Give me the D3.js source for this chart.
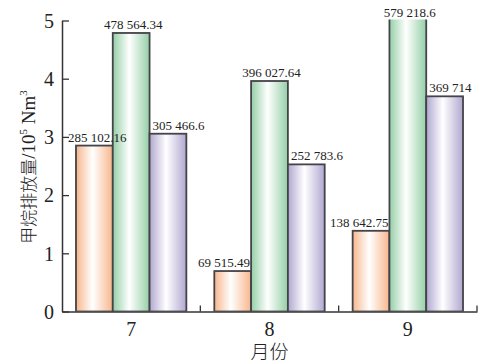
<!DOCTYPE html>
<html>
<head>
<meta charset="utf-8">
<script src="https://cdn.jsdelivr.net/npm/d3@7"></script>
<style>
  html, body { margin: 0; padding: 0; background: #fff; }
  svg { display: block; }
  text { font-family: "Liberation Serif", "Times New Roman", "Noto Sans CJK SC", serif; fill: #222; }
</style>
</head>
<body>
<svg id="chart" width="479" height="364"></svg>
<script>
// Monthly methane emissions (Nm³) for three sources
const months = ["7", "8", "9"];
const seriesKeys = ["a", "b", "c"];
const seriesA = [285102.16, 69515.49, 138642.75];
const seriesB = [478564.34, 396027.64, 579218.6];
const seriesC = [305466.6, 252783.6, 369714];
const yTicks = [0, 1, 2, 3, 4, 5];
const labelText = ["285 102.16", "69 515.49", "138 642.75",
                   "478 564.34", "396 027.64", "579 218.6",
                   "305 466.6", "252 783.6", "369 714"];

const colors = { a: "#f7b68c", b: "#94cfa6", c: "#b1a7d0" };
const anchors = { a: "end", b: "middle", c: "start" };

const svg = d3.select("#chart");
const plotLeft = 62, plotRight = 477, plotTop = 20.5, plotBottom = 311.5;

const x0 = d3.scaleBand().domain(months).range([plotLeft, plotRight]).padding(0);
const x1 = d3.scaleBand().domain(seriesKeys).range([0, x0.bandwidth()])
  .paddingInner(0).paddingOuter(0.38);
const y = d3.scaleLinear().domain([0, 5]).range([plotBottom, plotTop]);

const seriesVals = { a: seriesA, b: seriesB, c: seriesC };
const rows = [];
seriesKeys.forEach((k, si) => {
  months.forEach((m, mi) => {
    rows.push({ key: k, month: m, value: seriesVals[k][mi] / 1e5, label: labelText[si * 3 + mi] });
  });
});

// Horizontal gradients: coloured edges fading to white near the middle
const defs = svg.append("defs");
seriesKeys.forEach(k => {
  const g = defs.append("linearGradient").attr("id", "grad-" + k)
    .attr("x1", "0%").attr("x2", "100%").attr("y1", "0%").attr("y2", "0%");
  g.append("stop").attr("offset", "0%").attr("stop-color", colors[k]);
  g.append("stop").attr("offset", "45%").attr("stop-color", "#ffffff");
  g.append("stop").attr("offset", "100%").attr("stop-color", colors[k]);
});
defs.append("clipPath").attr("id", "plot-clip")
  .append("rect").attr("x", plotLeft).attr("y", plotTop - 1)
  .attr("width", plotRight - plotLeft).attr("height", plotBottom - plotTop + 1);

// Bars
svg.append("g").attr("clip-path", "url(#plot-clip)")
  .selectAll("rect").data(rows).join("rect")
  .attr("x", d => x0(d.month) + x1(d.key))
  .attr("y", d => y(d.value))
  .attr("width", x1.bandwidth())
  .attr("height", d => plotBottom - y(d.value))
  .attr("fill", d => "url(#grad-" + d.key + ")")
  .attr("stroke", "#454349")
  .attr("stroke-width", 1.8);

// Value labels; keep them clear of the y axis ticks
svg.append("g").selectAll("text").data(rows).join("text")
  .attr("x", d => {
    const bx = x0(d.month) + x1(d.key);
    if (d.key === "a") return bx + x1.bandwidth() - 1;
    if (d.key === "b") return bx + x1.bandwidth() / 2 + 2;
    return bx + 3;
  })
  .attr("y", d => Math.max(y(d.value), plotTop) - 4)
  .attr("text-anchor", d => anchors[d.key])
  .attr("font-size", 13)
  .text(d => d.label)
  .each(function () {
    const b = this.getBBox();
    const minX = plotLeft + 6;
    if (b.x < minX) {
      d3.select(this).attr("text-anchor", "start").attr("x", minX);
    }
  });

// Y axis with inward ticks
const yAxis = svg.append("g").attr("transform", `translate(${plotLeft},0)`)
  .call(d3.axisLeft(y).tickValues(yTicks).tickFormat(d3.format("d"))
    .tickSizeInner(-7).tickSizeOuter(0).tickPadding(8));
yAxis.select(".domain").attr("stroke", "#333").attr("stroke-width", 1.5);
yAxis.selectAll(".tick line").attr("stroke", "#333").attr("stroke-width", 1.3);
yAxis.selectAll(".tick text").attr("font-size", 20).attr("font-family", "Liberation Serif, serif")
  .attr("fill", "#222").attr("dy", "0.34em");

// X axis: labels at group centres, short upward ticks at group boundaries
const xAxis = svg.append("g").attr("transform", `translate(0,${plotBottom})`)
  .call(d3.axisBottom(x0).tickSize(0).tickPadding(10));
xAxis.select(".domain").attr("stroke", "#333").attr("stroke-width", 1.5);
xAxis.selectAll(".tick text").attr("font-size", 20).attr("font-family", "Liberation Serif, serif")
  .attr("fill", "#222");
svg.append("g").selectAll("line").data(months).join("line")
  .attr("x1", d => x0(d) + x0.bandwidth()).attr("x2", d => x0(d) + x0.bandwidth())
  .attr("y1", plotBottom).attr("y2", plotBottom - 6)
  .attr("stroke", "#333").attr("stroke-width", 1.3);

// Axis titles
svg.append("text")
  .attr("x", (plotLeft + plotRight) / 2).attr("y", 359)
  .attr("text-anchor", "middle").attr("font-size", 19)
  .attr("font-family", "Noto Sans CJK SC, sans-serif")
  .style("font-weight", 300)
  .text("月份");

const yt = svg.append("text")
  .attr("transform", "translate(35,167) rotate(-90)")
  .attr("text-anchor", "middle").attr("font-size", 19);
yt.append("tspan").attr("font-family", "Noto Sans CJK SC, sans-serif").attr("font-size", 17)
  .style("font-weight", 300).text("甲烷排放量");
yt.append("tspan").text("/10");
yt.append("tspan").attr("font-size", 11).attr("dy", -8).text("5");
yt.append("tspan").attr("dy", 8).text(" Nm");
yt.append("tspan").attr("font-size", 11).attr("dy", -8).text("3");
</script>
</body>
</html>
